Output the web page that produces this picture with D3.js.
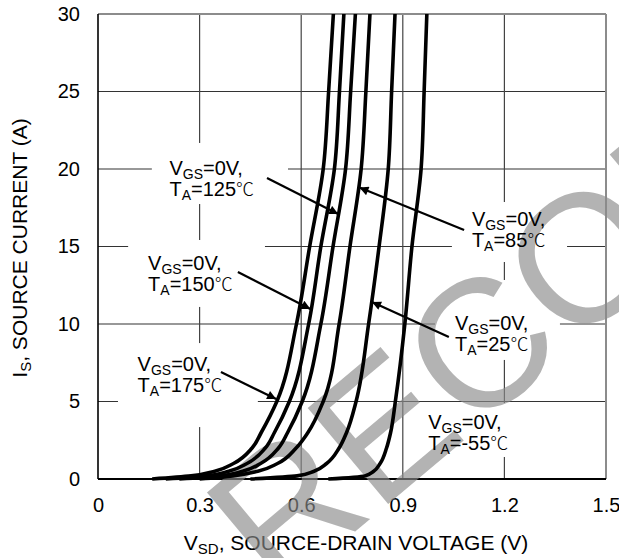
<!DOCTYPE html>
<html>
<head>
<meta charset="utf-8">
<script src="https://cdn.jsdelivr.net/npm/d3@7"></script>
<style>
  body { margin: 0; background: #fff; }
  text { font-family: "Liberation Sans", Arial, sans-serif; }
</style>
</head>
<body>
<svg id="chart" width="619" height="558"></svg>
<script>
// Axis ticks
const xTicks = [0, 0.3, 0.6, 0.9, 1.2, 1.5];
const yTicks = [0, 5, 10, 15, 20, 25, 30];

// Source current levels (A) at which each curve is sampled
const currents = [0, 0.2, 0.5, 1, 2, 3, 5, 10, 15, 20, 25, 30];

// Source-drain voltage (V) for each ambient temperature
const vsd175 = [0.16, 0.275, 0.345, 0.400, 0.455, 0.482, 0.528, 0.586, 0.625, 0.665, 0.681, 0.695];
const vsd150 = [0.20, 0.318, 0.386, 0.440, 0.494, 0.521, 0.565, 0.622, 0.658, 0.698, 0.713, 0.726];
const vsd125 = [0.24, 0.358, 0.427, 0.480, 0.533, 0.560, 0.603, 0.658, 0.694, 0.731, 0.746, 0.760];
const vsd85  = [0.30, 0.398, 0.472, 0.530, 0.585, 0.620, 0.665, 0.712, 0.744, 0.777, 0.791, 0.803];
const vsd25  = [0.45, 0.588, 0.638, 0.675, 0.712, 0.734, 0.762, 0.799, 0.830, 0.857, 0.867, 0.877];
const vsdM55 = [0.68, 0.788, 0.814, 0.833, 0.852, 0.864, 0.878, 0.906, 0.927, 0.954, 0.963, 0.971];

const temps = ["175", "150", "125", "85", "25", "-55"];
const seriesV = [vsd175, vsd150, vsd125, vsd85, vsd25, vsdM55];

// Callouts: label anchor, backing box, arrow start and arrow tip in data units
const callouts = [
  { t: "125", text: [0.211, 19.6], box: [0.159, 0.561, 21.68, 17.74], from: [0.499, 19.42], to: [0.709, 17.10] },
  { t: "150", text: [0.148, 13.5], box: [0.089, 0.493, 15.42, 11.10], from: [0.413, 13.35], to: [0.627, 10.97] },
  { t: "175", text: [0.117, 7.0],  box: [0.059, 0.472, 8.77, 3.35],   from: [0.363, 6.90],  to: [0.526, 5.16] },
  { t: "85",  text: [1.104, 16.3], box: [1.045, 1.385, 17.87, 14.0],  from: [1.081, 16.06], to: [0.772, 18.8] },
  { t: "25",  text: [1.054, 9.6],  box: [0.995, 1.364, 12.84, 7.68],  from: [1.036, 9.16],  to: [0.809, 11.42] },
  { t: "-55", text: [0.975, 3.25], box: [0.921, 1.305, 4.90, 1.42],   from: null, to: null }
];

const svg = d3.select("#chart");
const x = d3.scaleLinear().domain([0, 1.5]).range([98, 606]);
const y = d3.scaleLinear().domain([0, 30]).range([479, 14]);

// Grid
const grid = svg.append("g");
grid.selectAll("line.h").data(yTicks.slice(1, -1)).join("line")
  .attr("x1", x(0)).attr("x2", x(1.5))
  .attr("y1", d => y(d)).attr("y2", d => y(d))
  .attr("stroke", "#333").attr("stroke-width", 1.2);
grid.selectAll("line.v").data(xTicks.slice(1, -1)).join("line")
  .attr("y1", y(0)).attr("y2", y(30))
  .attr("x1", d => x(d)).attr("x2", d => x(d))
  .attr("stroke", "#444").attr("stroke-width", 1.2);

// White label backgrounds cut the grid
svg.append("g").selectAll("rect").data(callouts).join("rect")
  .attr("x", d => x(d.box[0])).attr("y", d => y(d.box[2]))
  .attr("width", d => x(d.box[1]) - x(d.box[0]))
  .attr("height", d => y(d.box[3]) - y(d.box[2]))
  .attr("fill", "#fff");

// Frame
svg.append("line").attr("x1", x(0)).attr("x2", x(1.5)).attr("y1", y(30)).attr("y2", y(30))
  .attr("stroke", "#8c8c8c").attr("stroke-width", 2);
svg.append("line").attr("x1", x(1.5)).attr("x2", x(1.5)).attr("y1", y(0)).attr("y2", y(30))
  .attr("stroke", "#8c8c8c").attr("stroke-width", 2);
svg.append("line").attr("x1", x(0)).attr("x2", x(0)).attr("y1", y(0)).attr("y2", y(30))
  .attr("stroke", "#000").attr("stroke-width", 1.6);
svg.append("line").attr("x1", x(0)).attr("x2", x(1.5)).attr("y1", y(0)).attr("y2", y(0))
  .attr("stroke", "#000").attr("stroke-width", 2);

// Axes (labels only)
const fmtX = d => d === 0 ? "0" : d3.format(".1f")(d);
const xAxis = svg.append("g").attr("transform", `translate(0,${y(0)})`)
  .call(d3.axisBottom(x).tickValues(xTicks).tickFormat(fmtX).tickSize(0).tickPadding(19));
const yAxis = svg.append("g").attr("transform", `translate(${x(0)},0)`)
  .call(d3.axisLeft(y).tickValues(yTicks).tickSize(0).tickPadding(18));
[xAxis, yAxis].forEach(a => {
  a.select(".domain").remove();
  a.selectAll("text").attr("font-size", 20).attr("fill", "#000")
    .attr("font-family", "'Liberation Sans', Arial, sans-serif");
});

// Axis titles
const xt = svg.append("text").attr("x", 356).attr("y", 550).attr("text-anchor", "middle")
  .attr("font-size", 21);
xt.append("tspan").text("V");
xt.append("tspan").text("SD").attr("font-size", 15).attr("dy", 4);
xt.append("tspan").text(", SOURCE-DRAIN VOLTAGE (V)").attr("dy", -4);

const yt = svg.append("text").attr("transform", "translate(27,248) rotate(-90)")
  .attr("text-anchor", "middle").attr("font-size", 21);
yt.append("tspan").text("I");
yt.append("tspan").text("S").attr("font-size", 15).attr("dy", 4);
yt.append("tspan").text(", SOURCE CURRENT (A)").attr("dy", -4);

// Watermark (translucent, so text underneath stays faintly visible)
svg.append("text")
  .attr("transform", "translate(276,598) rotate(-40)")
  .attr("font-size", 182).attr("fill", "#8a8a8a").attr("fill-opacity", 0.65)
  .text("RECOMMENDED");

// Curves
const line = d3.line()
  .x(d => x(d[0])).y(d => y(d[1]))
  .curve(d3.curveMonotoneY);
svg.append("defs").append("clipPath").attr("id", "plot")
  .append("rect").attr("x", x(0)).attr("y", y(30)).attr("width", x(1.5) - x(0)).attr("height", y(0) - y(30) + 3);
svg.append("g").attr("clip-path", "url(#plot)")
  .selectAll("path").data(seriesV).join("path")
  .attr("d", vs => line(vs.map((v, i) => [v, currents[i]])))
  .attr("fill", "none").attr("stroke", "#000").attr("stroke-width", 3.6)
  .attr("stroke-linejoin", "round");

// Arrows
svg.select("defs").append("marker").attr("id", "head")
  .attr("viewBox", "0 0 10 10").attr("refX", 10).attr("refY", 5)
  .attr("markerWidth", 12).attr("markerHeight", 9).attr("markerUnits", "userSpaceOnUse")
  .attr("orient", "auto")
  .append("path").attr("d", "M0,0 L10,5 L0,10 Z").attr("fill", "#000");
svg.append("g").selectAll("line").data(callouts.filter(c => c.from)).join("line")
  .attr("x1", d => x(d.from[0])).attr("y1", d => y(d.from[1]))
  .attr("x2", d => x(d.to[0])).attr("y2", d => y(d.to[1]))
  .attr("stroke", "#000").attr("stroke-width", 2.2)
  .attr("marker-end", "url(#head)");

// Callout texts
callouts.forEach(c => {
  const px = x(c.text[0]), py = y(c.text[1]);
  const l1 = svg.append("text").attr("x", px).attr("y", py).attr("font-size", 20);
  l1.append("tspan").text("V");
  l1.append("tspan").text("GS").attr("font-size", 14).attr("dy", 4);
  l1.append("tspan").text("=0V,").attr("dy", -4);
  const l2 = svg.append("text").attr("x", px).attr("y", py + 21).attr("font-size", 20);
  l2.append("tspan").text("T");
  l2.append("tspan").text("A").attr("font-size", 14).attr("dy", 4);
  l2.append("tspan").text("=" + c.t).attr("dy", -4);
  l2.append("tspan").text("℃").attr("font-family", "'Noto Sans CJK SC', sans-serif")
    .attr("font-weight", 300).attr("font-size", 18);
});
</script>
</body>
</html>
